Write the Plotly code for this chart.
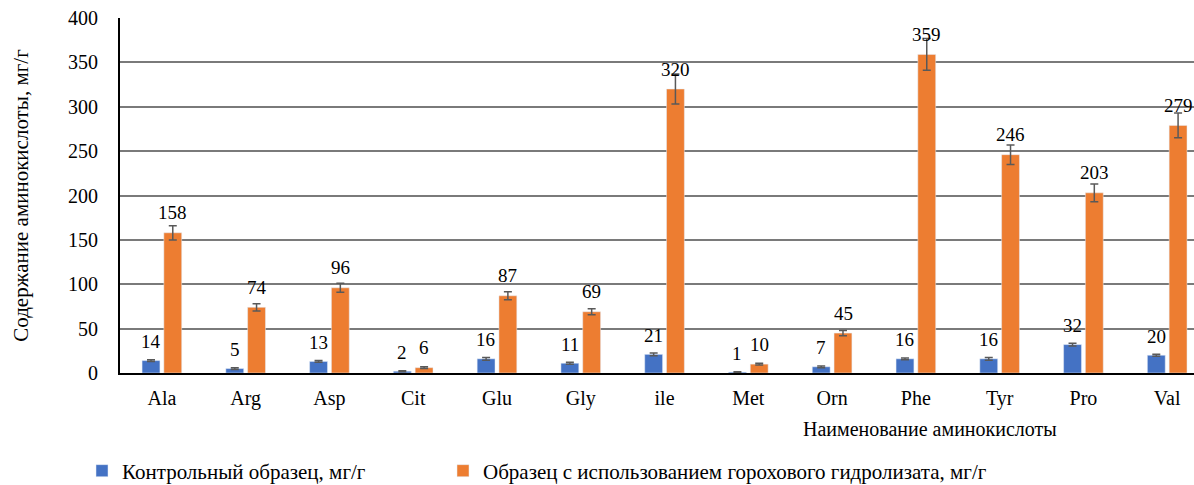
import plotly.graph_objects as go

categories = ["Ala", "Arg", "Asp", "Cit", "Glu", "Gly", "ile", "Met", "Orn", "Phe", "Tyr", "Pro", "Val"]
control = [14, 5, 13, 2, 16, 11, 21, 1, 7, 16, 16, 32, 20]
control_err = [1, 1, 1, 0.5, 1.5, 1, 1.5, 0.5, 1, 1, 1.5, 1.5, 1]
pea = [158, 74, 96, 6, 87, 69, 320, 10, 45, 359, 246, 203, 279]
pea_err = [8, 4, 5, 1, 4.5, 3.5, 17, 1, 3, 18, 11, 10, 14]

name_control = "Контрольный образец, мг/г"
name_pea = "Образец с использованием горохового гидролизата, мг/г"
y_title = "Содержание аминокислоты, мг/г"
x_title = "Наименование аминокислоты"

FONT = "Liberation Serif, Times New Roman, serif"
BLUE = "#4472C4"
ORANGE = "#ED7D31"
ERR = "#595959"

xs = list(range(len(categories)))

fig = go.Figure()
fig.add_trace(go.Bar(
    x=xs, y=control, name=name_control, marker_color=BLUE, legend="legend",
    error_y=dict(type="data", array=control_err, color=ERR, thickness=1.5, width=4),
))
fig.add_trace(go.Bar(
    x=xs, y=pea, name=name_pea, marker_color=ORANGE, legend="legend2",
    error_y=dict(type="data", array=pea_err, color=ERR, thickness=1.5, width=4),
))

for i, v in enumerate(control):
    fig.add_annotation(x=xs[i], y=v, text=str(v), showarrow=False, xref="x", yref="y",
                       xshift=-11, yshift=19, yanchor="middle",
                       font=dict(family=FONT, size=19, color="#000"))
for i, v in enumerate(pea):
    fig.add_annotation(x=xs[i], y=v, text=str(v), showarrow=False, xref="x", yref="y",
                       xshift=11, yshift=20, yanchor="middle",
                       font=dict(family=FONT, size=19, color="#000"))

fig.add_annotation(x=(930 - 120) / 1074, y=(373 - 429) / 355, xref="paper", yref="paper",
                   text=x_title, showarrow=False, xanchor="center", yanchor="middle",
                   font=dict(family=FONT, size=20, color="#000"))

legend_common = dict(orientation="h", yanchor="middle", y=(373 - 471) / 355, xanchor="left",
                     itemwidth=30, bgcolor="rgba(0,0,0,0)",
                     font=dict(family=FONT, size=21, color="#000"))

fig.update_layout(
    width=1194, height=485,
    margin=dict(l=120, r=0, t=18, b=112, autoexpand=False),
    paper_bgcolor="white", plot_bgcolor="white",
    barmode="group", bargap=0.48, bargroupgap=0.18,
    font=dict(family=FONT, size=20, color="#000"),
    showlegend=True,
    legend=dict(x=(82 - 120) / 1074, **legend_common),
    legend2=dict(x=(443 - 120) / 1074, **legend_common),
    xaxis=dict(
        tickmode="array", tickvals=xs, ticktext=categories,
        range=[-0.5, 12.32], showgrid=False, zeroline=False,
        showline=True, linecolor="#000", linewidth=2,
        ticks="", ticklabelstandoff=6, automargin=False,
        tickfont=dict(family=FONT, size=20, color="#000"),
    ),
    yaxis=dict(
        range=[0, 400], dtick=50, showgrid=True, gridcolor="#7a7a7a", gridwidth=1.5,
        zeroline=False, showline=True, linecolor="#000", linewidth=2,
        ticks="", ticklabelstandoff=16, automargin=False,
        tickfont=dict(family=FONT, size=20, color="#000"),
        title=dict(text=y_title, font=dict(family=FONT, size=21, color="#000"), standoff=34),
    ),
)

fig.write_html("out.html", config={"displayModeBar": False},
               post_script="document.body.style.margin='0';document.body.style.overflow='hidden';")
